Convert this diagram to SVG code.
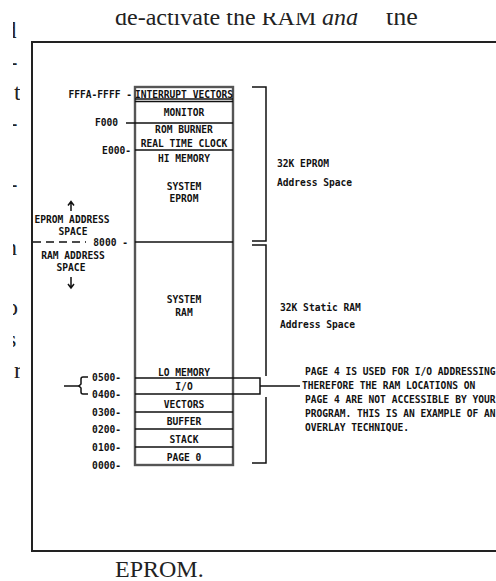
<svg xmlns="http://www.w3.org/2000/svg" width="496" height="581" viewBox="0 0 496 581">
<defs>
<style>
.serif{font-family:"Liberation Serif","Times New Roman",serif;font-size:24px;fill:#222}
.cad{font-family:"DejaVu Sans Mono","Liberation Mono",monospace;font-weight:bold;font-size:9.6px;fill:#111}
.mid{text-anchor:middle}
.end{text-anchor:end}
.ln{stroke:#111;stroke-width:1.5;fill:none}
.box{stroke:#555;stroke-width:2.4;fill:none}
.frame{stroke:#222;stroke-width:2;fill:none}
</style>
<clipPath id="topclip"><rect x="0" y="13" width="496" height="30"/></clipPath>
<clipPath id="leftclip"><rect x="13" y="0" width="7" height="581"/></clipPath>
</defs>
<rect width="496" height="581" fill="#fff"/>

<g id="page-text">
  <text class="serif" clip-path="url(#topclip)" y="25"><tspan x="115">de-activate the RAM</tspan><tspan x="322" font-style="italic">and</tspan><tspan x="386" font-size="26">the</tspan></text>
  <text class="serif" x="115" y="577" font-size="26">EPROM.</text>
  <g clip-path="url(#leftclip)" class="serif" font-size="26">
    <text x="4.5" y="38">d</text>
    <text x="9.5" y="70">-</text>
    <text x="14" y="100">t</text>
    <text x="9.5" y="131">-</text>
    <text x="9.5" y="192">-</text>
    <text x="5" y="255">n</text>
    <text x="6" y="315">o</text>
    <text x="7" y="347">s</text>
    <text x="14" y="378">r</text>
  </g>
</g>

<rect id="frame" class="frame" x="32" y="42" width="480" height="509"/>

<g id="memory-map">
  <rect class="box" x="135" y="87" width="98" height="378"/>
  <g id="row-interrupt-vectors"><text class="cad mid" x="184" y="97.5" font-size="9.2">INTERRUPT VECTORS</text></g>
  <g id="row-monitor"><text class="cad mid" x="184" y="115.5">MONITOR</text></g>
  <g id="row-rom-burner"><text class="cad mid" x="184" y="132.5">ROM BURNER</text><text class="cad mid" x="184" y="146.5">REAL TIME CLOCK</text></g>
  <g id="row-hi-memory"><text class="cad mid" x="184" y="161.5">HI MEMORY</text><text class="cad mid" x="184" y="189.5">SYSTEM</text><text class="cad mid" x="184" y="201.5">EPROM</text></g>
  <g id="row-lo-memory"><text class="cad mid" x="184" y="302.5">SYSTEM</text><text class="cad mid" x="184" y="315.5">RAM</text><text class="cad mid" x="184" y="375.5">LO MEMORY</text></g>
  <g id="row-io"><text class="cad mid" x="184" y="389.5">I/O</text></g>
  <g id="row-vectors"><text class="cad mid" x="184" y="407.5">VECTORS</text></g>
  <g id="row-buffer"><text class="cad mid" x="184" y="424.5">BUFFER</text></g>
  <g id="row-stack"><text class="cad mid" x="184" y="442.5">STACK</text></g>
  <g id="row-page0"><text class="cad mid" x="184" y="460.5">PAGE 0</text></g>
</g>

<g id="address-labels">
  <text class="cad end" x="132" y="98">FFFA-FFFF -</text>
  <text class="cad end" x="118" y="126">F000</text>
  <text class="cad end" x="131" y="153.5">E000-</text>
  <text class="cad end" x="128" y="245.5">8000 -</text>
  <text class="cad end" x="121" y="380.5">0500-</text>
  <text class="cad end" x="121" y="397.5">0400-</text>
  <text class="cad end" x="121" y="415.5">0300-</text>
  <text class="cad end" x="121" y="432.5">0200-</text>
  <text class="cad end" x="121" y="450.5">0100-</text>
  <text class="cad end" x="121" y="468.5">0000-</text>
</g>

<g id="space-labels">
  <text class="cad mid" x="72" y="222.5">EPROM ADDRESS</text>
  <text class="cad mid" x="73" y="234.5">SPACE</text>
  <text class="cad mid" x="73" y="259">RAM ADDRESS</text>
  <text class="cad mid" x="71" y="271">SPACE</text>
</g>

<g id="right-labels">
  <text class="cad" x="277" y="166.5">32K EPROM</text>
  <text class="cad" x="277" y="185.5">Address Space</text>
  <text class="cad" x="280" y="310.5">32K Static RAM</text>
  <text class="cad" x="280" y="327.5">Address Space</text>
</g>

<g id="callout">
  <text class="cad" x="305" y="374.5">PAGE 4 IS USED FOR I/O ADDRESSING</text>
  <text class="cad" x="302" y="388.5">THEREFORE THE RAM LOCATIONS ON</text>
  <text class="cad" x="305" y="402.5">PAGE 4 ARE NOT ACCESSIBLE BY YOUR</text>
  <text class="cad" x="305" y="416.5">PROGRAM. THIS IS AN EXAMPLE OF AN</text>
  <text class="cad" x="305" y="430.5">OVERLAY TECHNIQUE.</text>
</g>

<g id="connectors">
  <path class="ln" d="M135,99 H233 M135,101.5 H233"/>
  <path class="ln" d="M126,123 H233"/>
  <path class="ln" d="M135,150 H233"/>
  <path class="ln" d="M135,242 H233"/>
  <path class="ln" d="M33,242 H86" stroke-dasharray="8 5"/>
  <path class="ln" d="M135,378 H260 V394 H135"/>
  <path class="ln" d="M260,386 H300"/>
  <path class="ln" d="M135,412 H233 M135,429 H233 M135,447 H233"/>
  <path class="ln" d="M252,87 H266 V241 H252"/>
  <path class="ln" d="M252,245 H266 V376 M266,397 V463 H252"/>
  <path class="ln" d="M88,377 H83 Q81,377 81,379 V384 L79,386 L81,388 V392 Q81,394 83,394 H88"/>
  <path class="ln" d="M64,386 H79"/>
  <path class="ln" d="M71,211 V202 M68,205.5 L71,201.5 L74,205.5"/>
  <path class="ln" d="M71,277 V288 M68,284 L71,288 L74,284"/>
</g>
</svg>
